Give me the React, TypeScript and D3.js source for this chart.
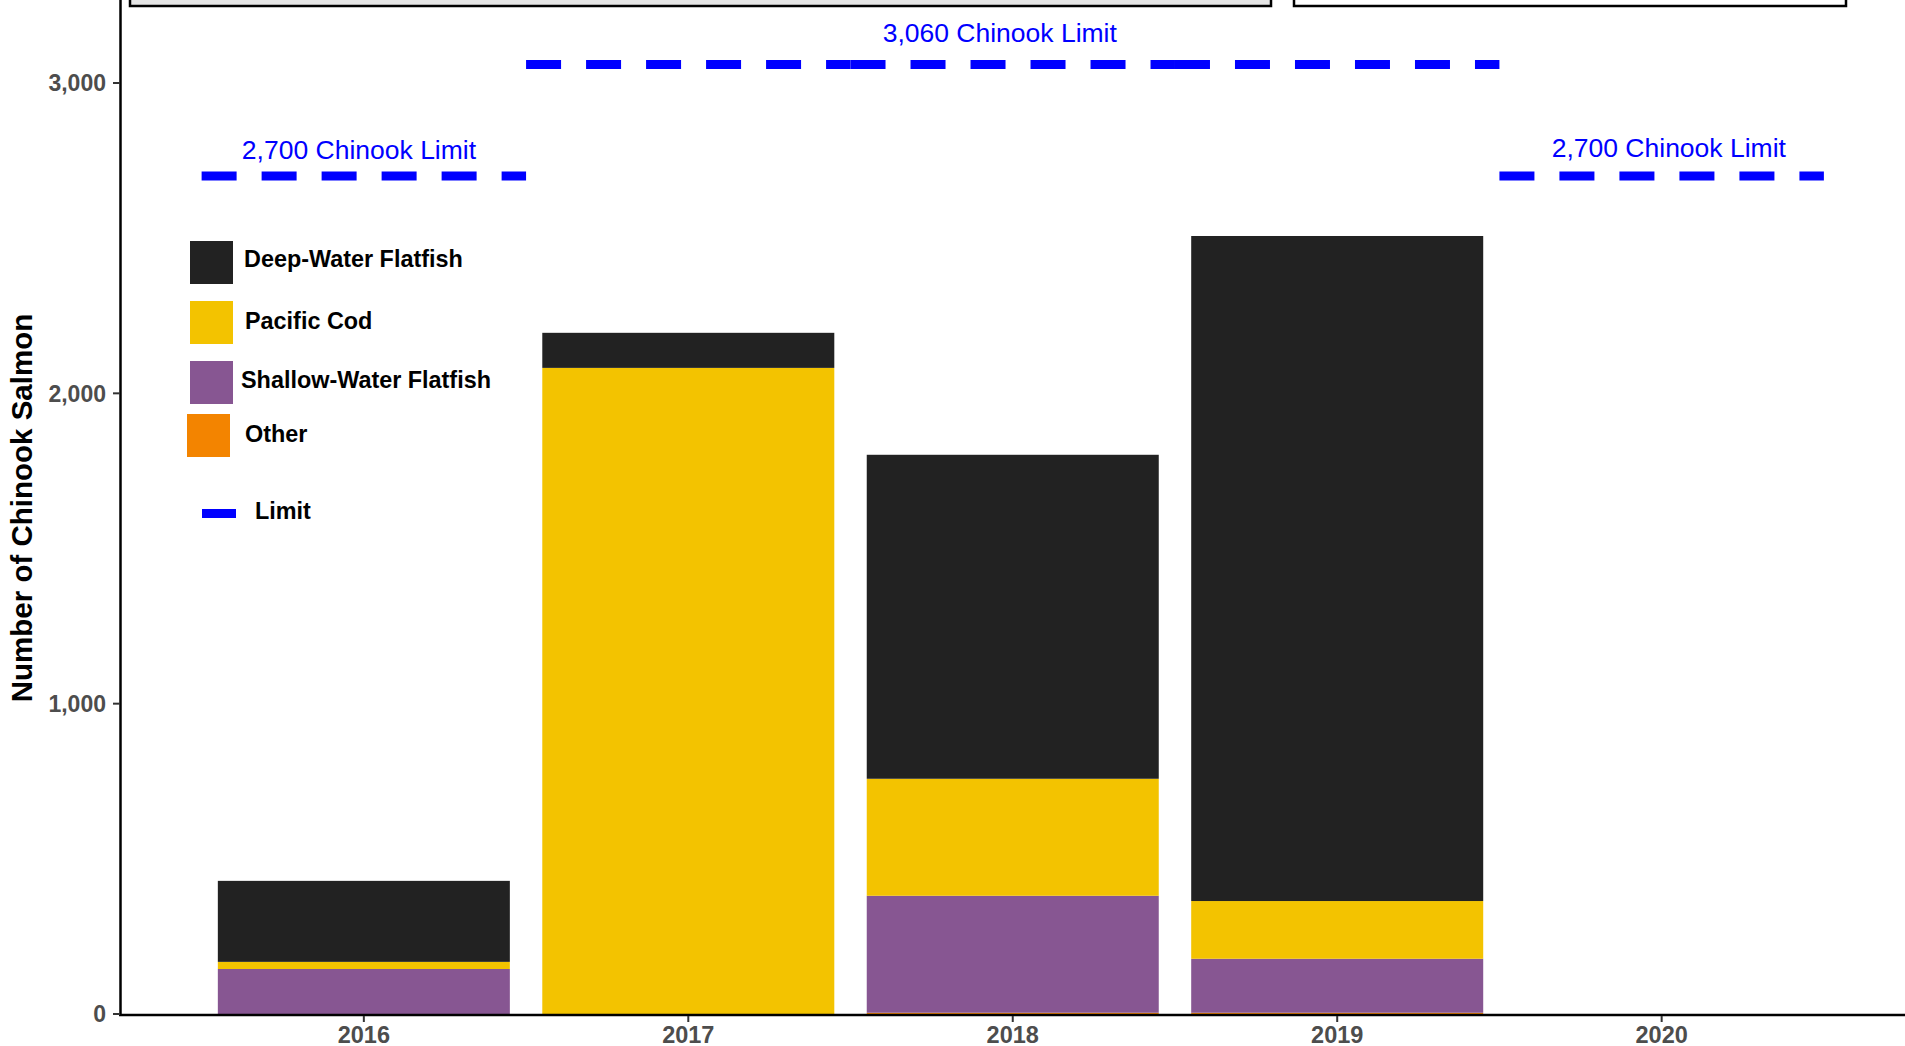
import React from "react";
import * as d3 from "d3";

const years = [2016, 2017, 2018, 2019, 2020];
const seriesNames = ["Other", "Shallow-Water Flatfish", "Pacific Cod", "Deep-Water Flatfish"];
const seriesColors = ["#F38400", "#875692", "#F3C300", "#222222"];
const otherValues = [0, 0, 4, 4, 0];
const shallowValues = [145, 0, 377, 174, 0];
const codValues = [23, 2082, 377, 186, 0];
const deepValues = [261, 113, 1044, 2143, 0];
const limitValues = [2700, 3060, 3060, 3060, 2700];
const limitLabels = [
  { text: "2,700 Chinook Limit", x: 2015.985, y: 2754 },
  { text: "3,060 Chinook Limit", x: 2017.96, y: 3131 },
  { text: "2,700 Chinook Limit", x: 2020.022, y: 2763 },
];
const yTicks = [0, 1000, 2000, 3000];
const legendOrder = ["Deep-Water Flatfish", "Pacific Cod", "Shallow-Water Flatfish", "Other"];

const W = 1905;
const H = 1046;
const FONT = "'Liberation Sans', Arial, Helvetica, sans-serif";

export default function App() {
  const x = d3.scaleLinear().domain([2015.25, 2020.75]).range([120.5, 1905]);
  const y = d3.scaleLinear().domain([0, 3000]).range([1014, 83]);
  const barW = x(2016.45) - x(2015.55);

  const rows = years.map((yr, i) => ({
    year: yr,
    "Other": otherValues[i],
    "Shallow-Water Flatfish": shallowValues[i],
    "Pacific Cod": codValues[i],
    "Deep-Water Flatfish": deepValues[i],
  }));
  const stacked = d3.stack<any>().keys(seriesNames)(rows);
  const color = d3.scaleOrdinal<string, string>().domain(seriesNames).range(seriesColors);

  const legendSquares = [
    { x: 190, y: 241, tx: 244, ty: 266.7 },
    { x: 190, y: 301, tx: 245, ty: 328.7 },
    { x: 190, y: 361, tx: 241, ty: 388.3 },
    { x: 187, y: 414, tx: 245, ty: 441.7 },
  ];

  return (
    <svg
      width={W}
      height={H}
      style={{ position: "absolute", left: 0, top: 0, display: "block", background: "#fff" }}
    >
      {/* cut-off boxes at top */}
      <rect x={130} y={-20} width={1141} height={26} fill="#E5E5E5" stroke="#000" strokeWidth={2.5} />
      <rect x={1294} y={-20} width={552} height={26} fill="#FFFFFF" stroke="#000" strokeWidth={2.5} />

      {/* bars */}
      {stacked.map((layer) => (
        <g key={layer.key} fill={color(layer.key)}>
          {layer.map((d, i) =>
            d[1] - d[0] > 0 ? (
              <rect
                key={i}
                x={x(years[i]) - barW / 2}
                y={y(d[1])}
                width={barW}
                height={y(d[0]) - y(d[1])}
              />
            ) : null
          )}
        </g>
      ))}

      {/* limit lines */}
      {years.map((yr, i) => (
        <line
          key={"lim" + yr}
          x1={x(yr - 0.5)}
          x2={x(yr + 0.5)}
          y1={y(limitValues[i])}
          y2={y(limitValues[i])}
          stroke="#0000FF"
          strokeWidth={9}
          strokeDasharray="35,25"
        />
      ))}
      {limitLabels.map((l, i) => (
        <text
          key={"ll" + i}
          x={x(l.x)}
          y={y(l.y)}
          textAnchor="middle"
          fontFamily={FONT}
          fontSize={26.5}
          fill="#0000FF"
        >
          {l.text}
        </text>
      ))}

      {/* axes */}
      <line x1={120.5} x2={120.5} y1={0} y2={1015} stroke="#000" strokeWidth={2.5} />
      <line x1={119} x2={1905} y1={1015} y2={1015} stroke="#000" strokeWidth={2.5} />
      {yTicks.map((t) => (
        <g key={"yt" + t}>
          <line x1={113} x2={120} y1={y(t)} y2={y(t)} stroke="#333" strokeWidth={2} />
          <text
            x={106}
            y={y(t)}
            dy="0.36em"
            textAnchor="end"
            fontFamily={FONT}
            fontWeight="bold"
            fontSize={23}
            fill="#4D4D4D"
          >
            {d3.format(",")(t)}
          </text>
        </g>
      ))}
      {years.map((yr) => (
        <g key={"xt" + yr}>
          <line x1={x(yr)} x2={x(yr)} y1={1016} y2={1022} stroke="#333" strokeWidth={2} />
          <text
            x={x(yr)}
            y={1042.5}
            textAnchor="middle"
            fontFamily={FONT}
            fontWeight="bold"
            fontSize={23.5}
            fill="#4D4D4D"
          >
            {yr}
          </text>
        </g>
      ))}
      <text
        transform={`translate(32,${508}) rotate(-90)`}
        textAnchor="middle"
        fontFamily={FONT}
        fontWeight="bold"
        fontSize={29.5}
        fill="#000"
      >
        Number of Chinook Salmon
      </text>

      {/* legend */}
      {legendOrder.map((name, i) => (
        <g key={"lg" + name}>
          <rect x={legendSquares[i].x} y={legendSquares[i].y} width={43} height={43} fill={color(name)} />
          <text
            x={legendSquares[i].tx}
            y={legendSquares[i].ty}
            fontFamily={FONT}
            fontWeight="bold"
            fontSize={23.4}
            fill="#000"
          >
            {name}
          </text>
        </g>
      ))}
      <line x1={202} x2={236} y1={513.5} y2={513.5} stroke="#0000FF" strokeWidth={9} />
      <text x={255} y={519.3} fontFamily={FONT} fontWeight="bold" fontSize={23.4} fill="#000">
        Limit
      </text>
    </svg>
  );
}
